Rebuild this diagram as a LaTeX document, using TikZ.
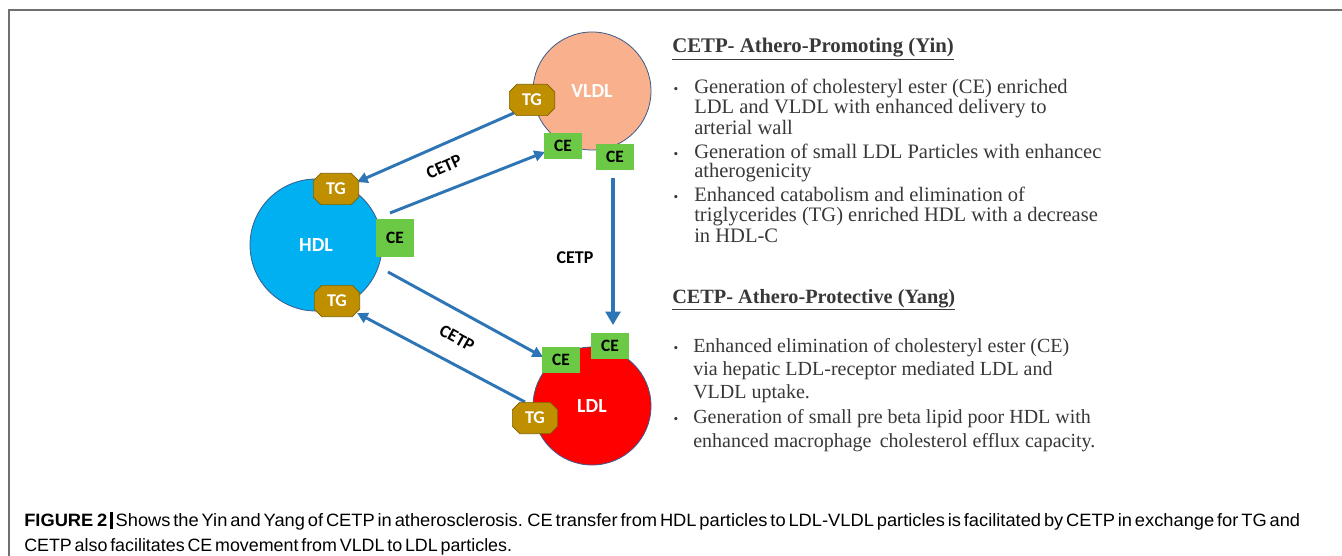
\documentclass[tikz,border=0pt]{standalone}
\usepackage{graphicx}
\usepackage{fontspec}
\setmainfont{Liberation Serif}
\newfontfamily\calfont{Carlito}
\newfontfamily\capfont{Liberation Sans}
\newfontfamily\capfonttight[WordSpace=0.75]{Liberation Sans}
\usetikzlibrary{arrows.meta,shapes.misc,calc}
\definecolor{hdlc}{HTML}{00B0F0}
\definecolor{vldlc}{HTML}{F9B08C}
\definecolor{ldlc}{HTML}{FF0000}
\definecolor{edgec}{HTML}{3A5A8C}
\definecolor{tgc}{HTML}{BF8F00}
\definecolor{tgedge}{HTML}{7F6000}
\definecolor{cec}{HTML}{6BC946}
\definecolor{arrc}{HTML}{2E75B6}
\definecolor{txtc}{HTML}{383838}
\definecolor{framec}{HTML}{707070}
\tikzset{
  particle/.style={circle, draw=edgec, line width=0.6pt, minimum size=88.5pt, inner sep=0pt,
    text=white, font=\calfont\bfseries\fontsize{15}{17}\selectfont},
  tgbox/.style={chamfered rectangle, chamfered rectangle xsep=2.8pt, chamfered rectangle ysep=2.8pt,
    fill=tgc, draw=tgedge, line width=0.5pt, minimum width=34pt, minimum height=23.5pt, inner sep=0pt,
    text=white, font=\calfont\bfseries\fontsize{13.5}{15}\selectfont},
  cebox/.style={rectangle, fill=cec, minimum width=29pt, minimum height=20pt, inner sep=0pt,
    text=black, font=\calfont\bfseries\fontsize{13}{15}\selectfont},
  flow/.style={draw=arrc, line width=2.2pt, -{Triangle[length=8pt,width=8pt]}},
  bigflow/.style={draw=arrc, line width=3.6pt, -{Triangle[length=10pt,width=11pt]}},
  cetp/.style={text=black, font=\calfont\bfseries\fontsize{13.5}{15}\selectfont, inner sep=0pt},
  body/.style={anchor=base west, inner sep=0pt, text=txtc, font=\fontsize{15.4}{17}\selectfont},
  bodyb/.style={anchor=base west, inner sep=0pt, text=txtc, font=\fontsize{15}{17}\selectfont},
  head/.style={anchor=base west, inner sep=0pt, text=txtc, font=\bfseries\fontsize{15.6}{17}\selectfont},
  headb/.style={anchor=base west, inner sep=0pt, text=txtc, font=\bfseries\fontsize{15.2}{17}\selectfont},
  bul/.style={anchor=base, inner sep=0pt, text=txtc, font=\fontsize{10}{11}\selectfont},
  captext/.style={anchor=base west, inner sep=0pt, text=black, font=\capfont\fontsize{13.4}{16}\selectfont}
}
\begin{document}
\begin{tikzpicture}[x=0.75pt, y=-0.75pt]
\useasboundingbox (0,0) rectangle (1342,556);
\fill[white] (0,0) rectangle (1342,556);
% frame
\draw[framec, line width=1.2pt] (9,556) -- (9,10) -- (1342,10);

% particles
\node[particle, fill=vldlc] (vldl) at (592,91) {VLDL};
\node[particle, fill=hdlc, minimum size=99pt] (hdl) at (316,245) {HDL};
\node[particle, fill=ldlc] (ldl) at (592,406) {LDL};

% arrows
\coordinate (a1s) at (514,113);
\coordinate (a1e) at (357,182);
\coordinate (a2s) at (390,213);
\coordinate (a2e) at (545,152);
\coordinate (a3s) at (613,178);
\coordinate (a3e) at (613,325);
\coordinate (a4s) at (388,272);
\coordinate (a4e) at (543,357);
\coordinate (a5s) at (525,402);
\coordinate (a5e) at (357,313);
\draw[flow] (a1s) -- (a1e);
\draw[flow] (a2s) -- (a2e);
\draw[bigflow] (a3s) -- (a3e);
\draw[flow] (a4s) -- (a4e);
\draw[flow] (a5s) -- (a5e);

% badges
\node[tgbox] (vtg) at (532,100) {TG};
\node[cebox] (vce1) at (563,146) {CE};
\node[cebox] (vce2) at (615,157) {CE};
\node[tgbox] (htg1) at (336,189) {TG};
\node[cebox, minimum height=29pt] (hce) at (395,238) {CE};
\node[tgbox] (htg2) at (337,301) {TG};
\node[cebox] (lce1) at (561,360) {CE};
\node[cebox] (lce2) at (610,346) {CE};
\node[tgbox] (ltg) at (535,418) {TG};

% CETP labels
\node[cetp, rotate=24] (c1) at (444,167) {CETP};
\node[cetp] (c2) at (575,258) {CETP};
\node[cetp, rotate=-29] (c3) at (457,338) {CETP};

% Yin text
\node[head] (yinh) at (672,53) {\underline{CETP- Athero-Promoting (Yin)}};
\node[bul] (b1) at (676,94) {•};
\node[body] (y1) at (694,94) {Generation of cholesteryl ester (CE) enriched};
\node[body] (y2) at (694,114) {LDL and VLDL with enhanced delivery to};
\node[body] (y3) at (694,135) {arterial wall};
\node[bul] (b2) at (676,159) {•};
\node[body] (y4) at (694,159) {Generation of small LDL Particles with enhancec};
\node[body] (y5) at (694,178) {atherogenicity};
\node[bul] (b3) at (676,202) {•};
\node[body] (y6) at (694,202) {Enhanced catabolism and elimination of};
\node[body] (y7) at (694,222) {triglycerides (TG) enriched HDL with a decrease};
\node[body] (y8) at (694,242) {in HDL-C};

% Yang text
\node[headb] (yangh) at (672,303) {\underline{CETP- Athero-Protective (Yang)}};
\node[bul] (b4) at (676,352) {•};
\node[bodyb] (g1) at (693,352) {Enhanced elimination of cholesteryl ester (CE)};
\node[bodyb] (g2) at (693,375) {via hepatic LDL-receptor mediated LDL and};
\node[bodyb] (g3) at (693,398) {VLDL uptake.};
\node[bul] (b5) at (676,423) {•};
\node[bodyb] (g4) at (693,423) {Generation of small pre beta lipid poor HDL with};
\node[bodyb] (g5) at (693,447) {enhanced macrophage\, cholesterol efflux capacity.};

% caption
\node[captext] (cap1) at (24,526) {\resizebox{957pt}{\height}{\capfonttight\textbf{FIGURE 2}\,\rule[-2.5pt]{1.6pt}{13pt}\,Shows the Yin and Yang of CETP in atherosclerosis. CE transfer from HDL particles to LDL-VLDL particles is facilitated by CETP in exchange for TG and}};
\node[captext] (cap2) at (24,551) {CETP also facilitates CE movement from VLDL to LDL particles.};
\end{tikzpicture}
\end{document}
